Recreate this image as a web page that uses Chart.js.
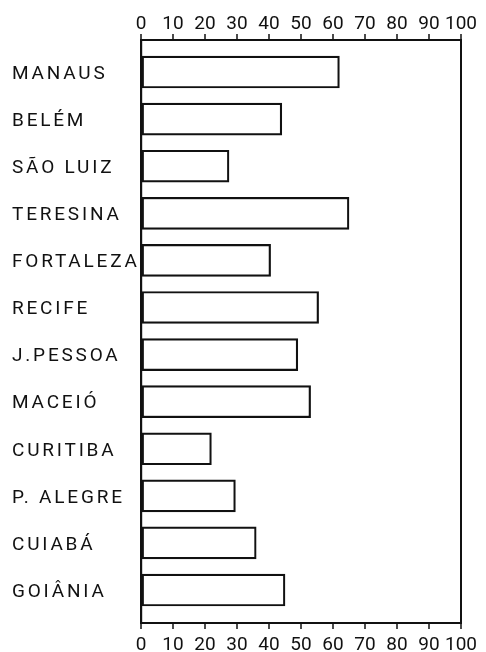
<!DOCTYPE html>
<html>
<head>
<meta charset="utf-8">
<script src="https://cdn.jsdelivr.net/npm/chart.js@4/dist/chart.umd.min.js"></script>
<style>
  body { margin: 0; background: #fff; }
  #wrap { width: 486px; height: 652px; }
</style>
</head>
<body>
<div id="wrap"><canvas id="grafico" width="486" height="652"></canvas></div>
<script>
const cidades = ["MANAUS", "BELÉM", "SÃO LUIZ", "TERESINA", "FORTALEZA", "RECIFE",
  "J.PESSOA", "MACEIÓ", "CURITIBA", "P. ALEGRE", "CUIABÁ", "GOIÂNIA"];
const valores = [62, 44, 27.5, 65, 40.5, 55.5, 49, 53, 22, 29.5, 36, 45];
const escalaMin = 0;
const escalaMax = 100;
const passo = 10;

// espacamento das letras so nos nomes das cidades
const espacoLetras = {
  id: "espacoLetras",
  beforeDraw(chart) {
    const y = chart.scales.y;
    if (y._espaco) return;
    const original = y.drawLabels.bind(y);
    y.drawLabels = function (area) {
      const c = this.ctx;
      const antes = c.letterSpacing;
      c.letterSpacing = "2.8px";
      c.translate(0, 2);
      original(area);
      c.translate(0, -2);
      c.letterSpacing = antes;
    };
    y._espaco = true;
  }
};

const eixoX = (pos, altura, pad) => ({
  type: "linear",
  position: pos,
  min: escalaMin,
  max: escalaMax,
  afterFit: (s) => { s.height = altura; },
  ticks: { stepSize: passo, color: "#111", padding: pad, maxRotation: 0, autoSkip: false,
    font: { family: "Roboto", size: 19 } },
  grid: {
    drawOnChartArea: true,
    tickLength: 6,
    tickWidth: 1.5,
    tickColor: "#111",
    lineWidth: 2,
    color: (ctx) => (ctx.tick && ctx.tick.value === escalaMax ? "#111" : "rgba(0,0,0,0)")
  },
  border: { display: true, color: "#111", width: 2 }
});

const ctx = document.getElementById("grafico").getContext("2d");
const grafico = new Chart(ctx, {
  type: "bar",
  data: {
    datasets: [{
      data: valores.map((v, i) => ({ x: v, y: i })),
      backgroundColor: "#fff",
      borderColor: "#111",
      borderWidth: 2.2,
      borderSkipped: false,
      barThickness: 32
    }]
  },
  options: {
    indexAxis: "y",
    responsive: false,
    animation: false,
    layout: { padding: { left: 12, right: 25, top: 0, bottom: 0 } },
    plugins: { legend: { display: false }, tooltip: { enabled: false } },
    scales: {
      x: eixoX("bottom", 29, 5),
      x2: eixoX("top", 40, -2),
      y: {
        type: "linear",
        reverse: true,
        offset: false,
        min: -0.68,
        max: 11.7,
        afterFit: (s) => { s.width = 129; },
        afterBuildTicks: (s) => { s.ticks = cidades.map((c, i) => ({ value: i })); },
        ticks: {
          crossAlign: "far",
          color: "#111",
          font: { family: "Roboto", size: 19 },
          callback: (v) => cidades[v]
        },
        grid: { display: false },
        border: { display: true, color: "#111", width: 2.2 }
      }
    }
  },
  plugins: [espacoLetras]
});
</script>
</body>
</html>
